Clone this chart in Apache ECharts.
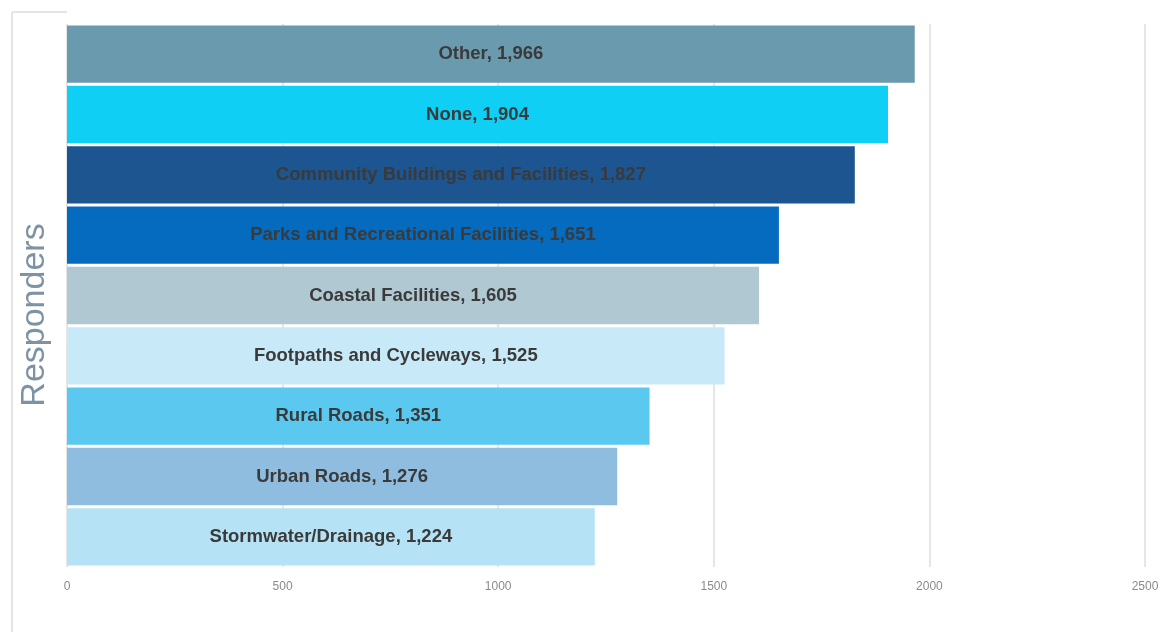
<!DOCTYPE html>
<html>
<head>
<meta charset="utf-8">
<script src="https://cdn.jsdelivr.net/npm/echarts@6/dist/echarts.min.js"></script>
<style>
  html, body { margin: 0; padding: 0; background: #fff; }
  #show { width: 1162px; height: 632px; }
</style>
</head>
<body>
<div id="show"></div>
<script>
var myChart = echarts.init(document.getElementById("show"));

// top to bottom, as in the picture
var categories = ["Other", "None", "Community Buildings and Facilities", "Parks and Recreational Facilities",
    "Coastal Facilities", "Footpaths and Cycleways", "Rural Roads", "Urban Roads", "Stormwater/Drainage"];
var responders = [1966, 1904, 1827, 1651, 1605, 1525, 1351, 1276, 1224];
var barColors = ["#6a9aae", "#0fcff5", "#1d5591", "#046bbf", "#b0c8d2", "#c8eaf8", "#5bc8f0", "#8fbde0", "#b5e3f5"];
var xTicks = [0, 500, 1000, 1500, 2000, 2500];

var barData = responders.map(function (v, i) {
    return {value: v, itemStyle: {color: barColors[i]}};
});

myChart.setOption(option = {
    animation: false,
    grid: {left: 67, right: 17, top: 24, bottom: 65},
    graphic: [
        // faint frame on the left side
        {type: 'line', shape: {x1: 12, y1: 12, x2: 12, y2: 632}, style: {stroke: '#e3e5ea', lineWidth: 2}},
        {type: 'line', shape: {x1: 12, y1: 12, x2: 67, y2: 12}, style: {stroke: '#e3e5ea', lineWidth: 2}},
        {
            type: 'text', x: 35, y: 315, rotation: Math.PI / 2,
            style: {
                text: 'Responders', font: '34px "Liberation Sans", Arial, sans-serif',
                fill: '#7d92a3', align: 'center', verticalAlign: 'middle'
            }
        }
    ],
    xAxis: {
        type: 'value',
        min: xTicks[0],
        max: xTicks[xTicks.length - 1],
        interval: 500,
        axisLine: {show: false},
        axisTick: {show: false},
        axisLabel: {color: '#8a8a8a', fontSize: 12, margin: 14, fontFamily: 'Liberation Sans',
            formatter: function (v) { return String(v); }},
        splitLine: {lineStyle: {color: '#e6e6e9', width: 2}}
    },
    yAxis: {
        type: 'category',
        inverse: true,
        data: categories,
        axisLine: {show: false},
        axisTick: {show: false},
        axisLabel: {show: false}
    },
    series: [
        {
            type: 'bar',
            data: barData,
            barCategoryGap: '5%',
            label: {
                show: true,
                position: 'inside',
                color: '#3a3a3a',
                fontWeight: 'bold',
                fontSize: 18.5,
                fontFamily: 'Liberation Sans',
                formatter: function (p) {
                    return p.name + ', ' + p.value.toLocaleString('en-US');
                }
            }
        }
    ]
});
</script>
</body>
</html>
